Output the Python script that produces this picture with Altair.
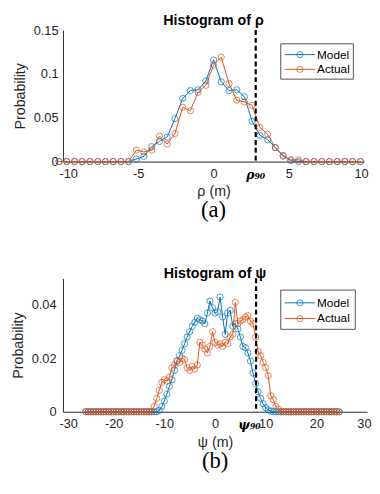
import altair as alt
import pandas as pd

series_names = ["Model", "Actual"]
series_colors = ["#0072BD", "#D95319"]

# ---- panel (a): rho ----
rho_x = [-10.26, -9.75, -9.23, -8.72, -8.21, -7.69, -7.18, -6.67, -6.15, -5.64,
         -5.13, -4.62, -4.10, -3.59, -3.08, -2.56, -2.05, -1.54, -1.03, -0.51,
         0.00, 0.51, 1.03, 1.54, 2.05, 2.56, 3.08, 3.59, 4.10, 4.62,
         5.13, 5.64, 6.15, 6.67, 7.18, 7.69, 8.21, 8.72, 9.23, 9.75]
rho_model = [0, 0, 0, 0, 0, 0, 0, 0, 0, 0,
             0.003, 0.006, 0.017, 0.023, 0.028, 0.049, 0.072, 0.081, 0.082, 0.092,
             0.116, 0.091, 0.081, 0.082, 0.074, 0.046, 0.030, 0.025, 0.016, 0.007,
             0.001, 0, 0, 0, 0, 0, 0, 0, 0, 0]
rho_actual = [0, 0, 0, 0, 0, 0, 0, 0, 0, 0,
              0.013, 0.011, 0.013, 0.029, 0.020, 0.032, 0.062, 0.058, 0.079, 0.087,
              0.110, 0.119, 0.089, 0.070, 0.068, 0.064, 0.039, 0.031, 0.016, 0.006,
              0.002, 0.002, 0, 0, 0, 0, 0, 0, 0, 0]
rho_xticks = [-10, -5, 0, 5, 10]
rho_yticks = [0, 0.05, 0.1, 0.15]
rho_p90 = 2.8

# ---- panel (b): psi ----
psi_x = [-25.5, -25.0, -24.5, -24.0, -23.5, -23.0, -22.5, -22.0, -21.5, -21.0,
         -20.5, -20.0, -19.5, -19.0, -18.5, -18.0, -17.5, -17.0, -16.5, -16.0,
         -15.5, -15.0, -14.5, -14.0, -13.5, -13.0, -12.5, -12.0, -11.5, -11.0,
         -10.5, -10.0, -9.5, -9.0, -8.5, -8.0, -7.5, -7.0, -6.5, -6.0,
         -5.5, -5.0, -4.5, -4.0, -3.5, -3.0, -2.5, -2.0, -1.5, -1.0,
         -0.5, 0.0, 0.5, 1.0, 1.5, 2.0, 2.5, 3.0, 3.5, 4.0,
         4.5, 5.0, 5.5, 6.0, 6.5, 7.0, 7.5, 8.0, 8.5, 9.0,
         9.5, 10.0, 10.5, 11.0, 11.5, 12.0, 12.5, 13.0, 13.5, 14.0,
         14.5, 15.0, 15.5, 16.0, 16.5, 17.0, 17.5, 18.0, 18.5, 19.0,
         19.5, 20.0, 20.5, 21.0, 21.5, 22.0, 22.5, 23.0, 23.5, 24.0,
         24.5]
psi_model = [0, 0, 0, 0, 0, 0, 0, 0, 0, 0,
             0, 0, 0, 0, 0, 0, 0, 0, 0, 0,
             0, 0, 0, 0, 0, 0, 0, 0, 0, 0.0005,
             0.002, 0.004, 0.0066, 0.0095, 0.012, 0.0155, 0.019, 0.021, 0.023, 0.0255,
             0.028, 0.030, 0.032, 0.0335, 0.035, 0.0345, 0.034, 0.033, 0.037, 0.0415,
             0.039, 0.037, 0.0375, 0.043, 0.0355, 0.029, 0.037, 0.038, 0.032, 0.033,
             0.031, 0.028, 0.0245, 0.024, 0.022, 0.019, 0.0145, 0.0105, 0.0075, 0.005,
             0.003, 0.0015, 0.0007, 0.0002, 0, 0, 0, 0, 0, 0,
             0, 0, 0, 0, 0, 0, 0, 0, 0, 0,
             0, 0, 0, 0, 0, 0, 0, 0, 0, 0,
             0]
psi_actual = [0, 0, 0, 0, 0, 0, 0, 0, 0, 0,
              0, 0, 0, 0, 0, 0, 0, 0, 0, 0,
              0, 0, 0, 0, 0, 0, 0, 0.002, 0.005, 0.008,
              0.011, 0.012, 0.0115, 0.013, 0.0165, 0.0175, 0.019, 0.0185, 0.020, 0.0195,
              0.0165, 0.0155, 0.017, 0.016, 0.0175, 0.026, 0.025, 0.0235, 0.022, 0.0245,
              0.030, 0.026, 0.025, 0.0255, 0.0245, 0.026, 0.0255, 0.028, 0.029, 0.041,
              0.033, 0.034, 0.0345, 0.0355, 0.036, 0.034, 0.033, 0.028, 0.0225, 0.021,
              0.0185, 0.0165, 0.0135, 0.006, 0.0045, 0.002, 0.001, 0, 0, 0,
              0, 0, 0, 0, 0, 0, 0, 0, 0, 0,
              0, 0, 0, 0, 0, 0, 0, 0, 0, 0,
              0]
psi_xticks = [-30, -20, -10, 0, 10, 20, 30]
psi_yticks = [0, 0.02, 0.04]
psi_p90 = 8.1

AX = "#262626"
SANS = "Liberation Sans"
SERIF = "Liberation Serif"


def panel(xs, model, actual, xdom, xticks, ydom, yticks, title, xlabel,
          caption, p90, p90_text, p90_text_x, W, H, box, ylabpad):
    df = pd.DataFrame({
        "x": list(xs) * 2,
        "value": list(model) + list(actual),
        "series": [series_names[0]] * len(xs) + [series_names[1]] * len(xs),
    })
    xenc = alt.X("x:Q", scale=alt.Scale(domain=xdom, nice=False, zero=False),
                 axis=alt.Axis(values=xticks, title=xlabel, labelExpr="'' + datum.value",
                               ticks=False, labelPadding=6, titlePadding=5,
                               labelFlush=True, labelFlushOffset=4, labelOverlap=False,
                               labelFontSize=13, titleFontSize=14.5))
    yenc = alt.Y("value:Q", scale=alt.Scale(domain=ydom, nice=False),
                 axis=alt.Axis(values=yticks, title="Probability",
                               labelExpr="'' + datum.value", ticks=False,
                               labelFlush=False, labelOverlap=False,
                               labelPadding=ylabpad, titlePadding=6,
                               labelFontSize=13, titleFontSize=14.5))
    cenc = alt.Color("series:N", scale=alt.Scale(domain=series_names, range=series_colors),
                     legend=None)
    layers = []
    for name in series_names:
        b = alt.Chart(df).transform_filter(alt.datum.series == name).encode(
            x=xenc, y=yenc, color=cenc)
        layers.append(b.mark_line(strokeWidth=1))
        layers.append(b.mark_point(shape="circle", filled=False, size=40, strokeWidth=1))

    p90df = pd.DataFrame({"x": [p90], "lx": [p90_text_x], "t": [p90_text]})
    rule = alt.Chart(p90df).mark_rule(color="black", strokeWidth=2.2, strokeDash=[5, 3]).encode(
        x=alt.X("x:Q"), y=alt.value(0), y2=alt.value(H))
    p90lab = alt.Chart(p90df).mark_text(font="DejaVu Serif", fontStyle="italic",
                                        fontWeight="bold", fontSize=12.5, color="black",
                                        baseline="middle", align="center").encode(
        x=alt.X("lx:Q"), y=alt.value(H + 14), text="t:N")
    cap = alt.Chart(p90df).mark_text(font=SERIF, fontSize=23, color="black",
                                     baseline="middle", align="center", text=caption).encode(
        x=alt.value(W / 2), y=alt.value(H + 50))

    bx, bx2, by, by2, r1, r2 = box
    legend_layers = [alt.Chart(p90df).mark_rect(fill="white", stroke=AX, strokeWidth=0.8).encode(
        x=alt.value(bx), x2=alt.value(bx2), y=alt.value(by), y2=alt.value(by2))]
    for name, col, ry in zip(series_names, series_colors, [r1, r2]):
        ldf = pd.DataFrame({"s": [name]})
        legend_layers.append(alt.Chart(ldf).mark_rule(color=col, strokeWidth=1).encode(
            x=alt.value(bx + 4), x2=alt.value(bx + 35), y=alt.value(ry)))
        legend_layers.append(alt.Chart(ldf).mark_point(shape="circle", filled=False, size=40,
                                                        strokeWidth=1, color=col).encode(
            x=alt.value(bx + 19.5), y=alt.value(ry)))
        legend_layers.append(alt.Chart(ldf).mark_text(font=SANS, fontSize=12, color="black",
                                                       align="left", baseline="middle").encode(
            x=alt.value(bx + 37), y=alt.value(ry), text="s:N"))

    return alt.layer(*layers, rule, p90lab, cap, *legend_layers).properties(
        width=W, height=H,
        title=alt.TitleParams(title, font=SANS, fontSize=14.5, fontWeight="bold",
                              color="black", anchor="middle", offset=-4))


top = panel(rho_x, rho_model, rho_actual, [-10, 10], rho_xticks, [0, 0.15], rho_yticks,
            "Histogram of ρ", "ρ (m)", "(a)", rho_p90, "ρ₉₀", rho_p90, 307, 134,
            (222, 296, 14, 50, 25, 40), 5)
bottom = panel(psi_x, psi_model, psi_actual, [-30, 30], psi_xticks, [0, 0.05], psi_yticks,
               "Histogram of ψ", "ψ (m)", "(b)", psi_p90, "ψ₉₀", 6.8, 310, 136,
               (222, 298, 12, 52, 25, 41), 7)

chart = alt.vconcat(top, bottom, spacing=44).properties(
    padding={"left": 2, "top": 0, "right": 1, "bottom": 0}
).configure_view(strokeWidth=0).configure_axis(
    domainColor=AX, labelColor=AX, titleColor=AX, labelFont=SANS, titleFont=SANS,
    titleFontWeight="normal", grid=False, domainWidth=1
)

chart.save("out.html", embed_options={"renderer": "svg", "actions": False})
